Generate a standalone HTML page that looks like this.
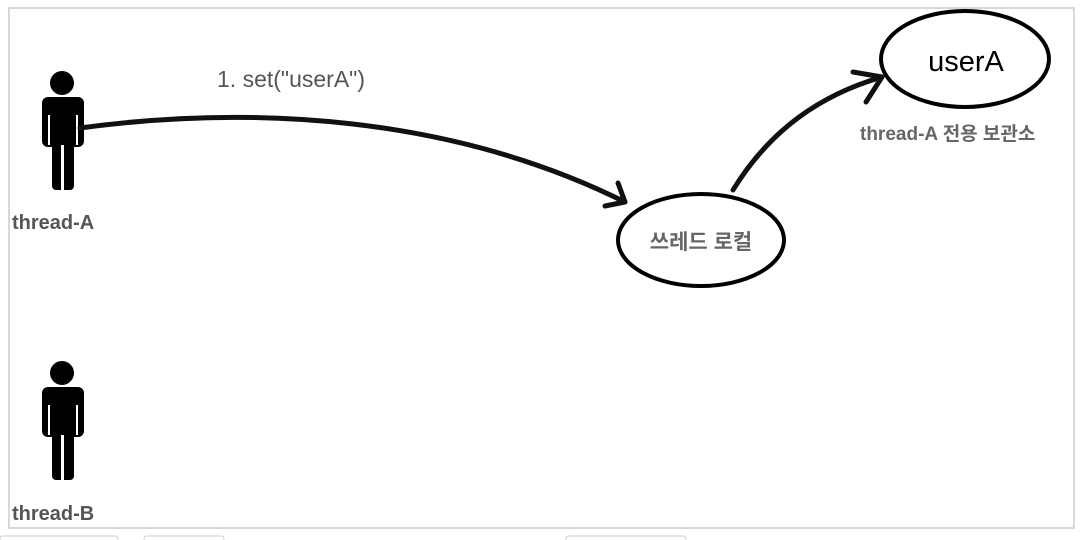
<!DOCTYPE html>
<html><head><meta charset="utf-8"><style>
body{margin:0;background:#fff;width:1090px;height:540px;overflow:hidden;position:relative;font-family:"Liberation Sans","Noto Sans CJK KR",sans-serif}
</style></head><body>
<svg width="1090" height="540" style="position:absolute;left:0;top:0">
<rect x="9" y="8" width="1065" height="520" fill="#fff" stroke="#d8d8d8" stroke-width="2"/>
<rect x="0" y="536" width="118" height="10" fill="none" stroke="#ccc" rx="3"/>
<rect x="144" y="536" width="80" height="10" fill="none" stroke="#ccc" rx="3"/>
<rect x="566" y="536" width="120" height="10" fill="none" stroke="#ccc" rx="3"/>
<g fill="#000">
<circle cx="62" cy="83" r="12"/>
<rect x="42" y="97" width="42" height="50" rx="6"/>
<rect x="52" y="120" width="22" height="70" rx="4"/>
<rect x="61" y="145" width="3" height="45" fill="#fff"/>
<circle cx="62" cy="373" r="12"/>
<rect x="42" y="387" width="42" height="50" rx="6"/>
<rect x="52" y="410" width="22" height="70" rx="4"/>
<rect x="61" y="435" width="3" height="45" fill="#fff"/>
<rect x="48" y="115" width="2" height="30" fill="#fff"/>
<rect x="76" y="115" width="2" height="30" fill="#fff"/>
<rect x="48" y="405" width="2" height="30" fill="#fff"/>
<rect x="76" y="405" width="2" height="30" fill="#fff"/>
</g>
<g fill="none" stroke="#111" stroke-width="5" stroke-linecap="round">
<path d="M80 128 C250 105 450 115 625 202"/>
<path d="M625 202 L605 206 M625 202 L618 183"/>
<path d="M733 190 C770 130 820 95 882 77"/>
<path d="M882 77 L853 72 M882 77 L866 102"/>
</g>
<ellipse cx="701" cy="240" rx="83" ry="46" fill="#fff" stroke="#000" stroke-width="4"/>
<ellipse cx="965" cy="59" rx="84" ry="48" fill="#fff" stroke="#000" stroke-width="4"/>
<text x="217" y="87" font-size="23" fill="#555" font-family="Liberation Sans, sans-serif">1. set("userA")</text>
<text x="12" y="229" font-size="20" font-weight="bold" fill="#555">thread-A</text>
<text x="12" y="520" font-size="20" font-weight="bold" fill="#555">thread-B</text>
<text x="701" y="249" font-size="21" font-weight="bold" fill="#666" text-anchor="middle" font-family="Liberation Sans, Noto Sans CJK KR, sans-serif">쓰레드 로컬</text>
<text x="966" y="71" font-size="29" fill="#000" text-anchor="middle">userA</text>
<text x="860" y="140" font-size="19" font-weight="bold" fill="#666" font-family="Liberation Sans, Noto Sans CJK KR, sans-serif">thread-A 전용 보관소</text>
</svg>
</body></html>
